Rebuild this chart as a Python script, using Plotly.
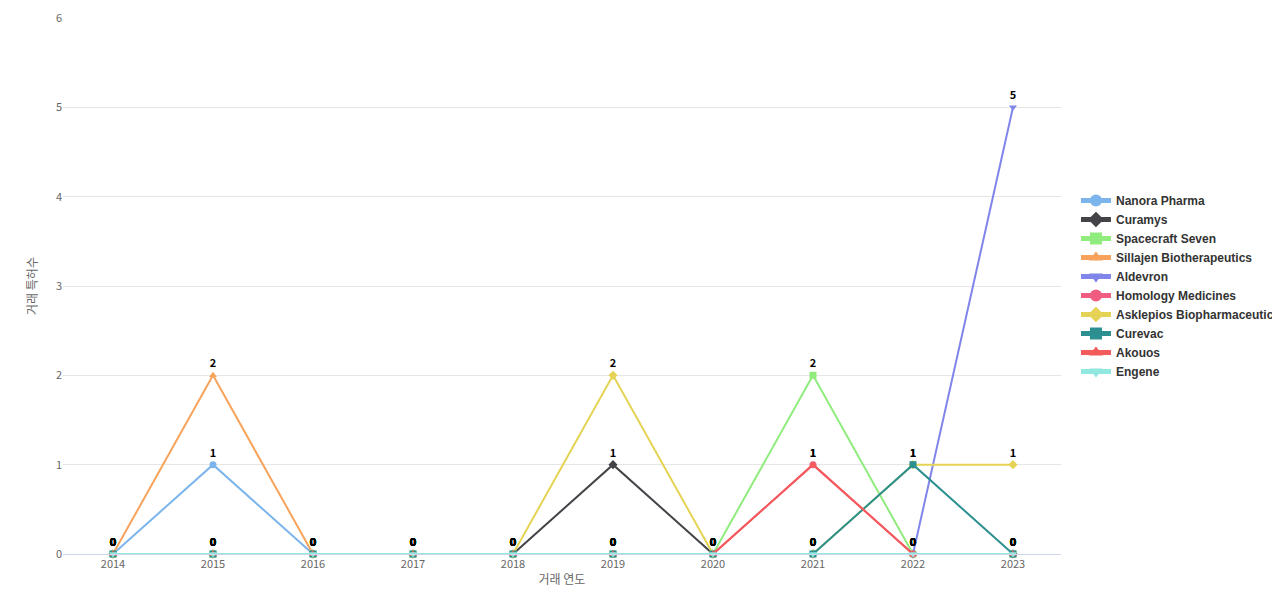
import plotly.graph_objects as go

years = [2014, 2015, 2016, 2017, 2018, 2019, 2020, 2021, 2022, 2023]
series_names = ["Nanora Pharma", "Curamys", "Spacecraft Seven", "Sillajen Biotherapeutics", "Aldevron",
                "Homology Medicines", "Asklepios Biopharmaceutical", "Curevac", "Akouos", "Engene"]
values = {
    "Nanora Pharma": [0, 1, 0, 0, 0, 0, 0, 0, 0, 0],
    "Curamys": [0, 0, 0, 0, 0, 1, 0, 0, 0, 0],
    "Spacecraft Seven": [0, 0, 0, 0, 0, 0, 0, 2, 0, 0],
    "Sillajen Biotherapeutics": [0, 2, 0, 0, 0, 0, 0, 0, 0, 0],
    "Aldevron": [0, 0, 0, 0, 0, 0, 0, 0, 0, 5],
    "Homology Medicines": [0, 0, 0, 0, 0, 0, 0, 1, 0, 0],
    "Asklepios Biopharmaceutical": [0, 0, 0, 0, 0, 2, 0, 0, 1, 1],
    "Curevac": [0, 0, 0, 0, 0, 0, 0, 0, 1, 0],
    "Akouos": [0, 0, 0, 0, 0, 0, 0, 1, 0, 0],
    "Engene": [0, 0, 0, 0, 0, 0, 0, 0, 0, 0],
}
colors = ["#7cb5ec", "#434348", "#90ed7d", "#f7a35c", "#8085e9",
          "#f15c80", "#e4d354", "#2b908f", "#f45b5b", "#91e8e1"]
symbols = ["circle", "diamond", "square", "triangle-up", "triangle-down",
           "circle", "diamond", "square", "triangle-up", "triangle-down"]

fig = go.Figure()
for name, c, s in zip(series_names, colors, symbols):
    fig.add_trace(go.Scatter(
        x=years, y=values[name], name=name, mode="lines+markers+text",
        line=dict(color=c, width=2), marker=dict(color=c, symbol=s, size=7),
        text=["<b>%d</b>" % v for v in values[name]], textposition="top center",
        textfont=dict(family="Noto Sans CJK KR", size=11, color="#000000"),
        cliponaxis=False,
    ))

fig.update_layout(
    width=1280, height=600, paper_bgcolor="white", plot_bgcolor="white",
    margin=dict(l=55, r=227, t=10, b=54, autoexpand=False),
    font=dict(family="Noto Sans CJK KR", color="#666666", size=11),
    legend=dict(x=1.015, y=0.5, yanchor="middle", xanchor="left",
                font=dict(size=12, color="#333333", family="Liberation Sans"),
                tracegroupgap=0, itemwidth=30, itemsizing="constant"),
    xaxis=dict(title=dict(text="거래 연도", standoff=5, font=dict(size=12)),
               tickmode="array", tickvals=years, range=[2013.5, 2023.48], automargin=False,
               showgrid=False, showline=True, linecolor="#ccd6eb", ticks=""),
    yaxis=dict(title=dict(text="거래 특허수", font=dict(size=12)), range=[0, 6], dtick=1,
               automargin=False, gridcolor="#e6e6e6", zeroline=False, ticks=""),
)
for tr in fig.data:
    tr.name = "<b>%s</b>" % tr.name
fig.write_html("out.html")
